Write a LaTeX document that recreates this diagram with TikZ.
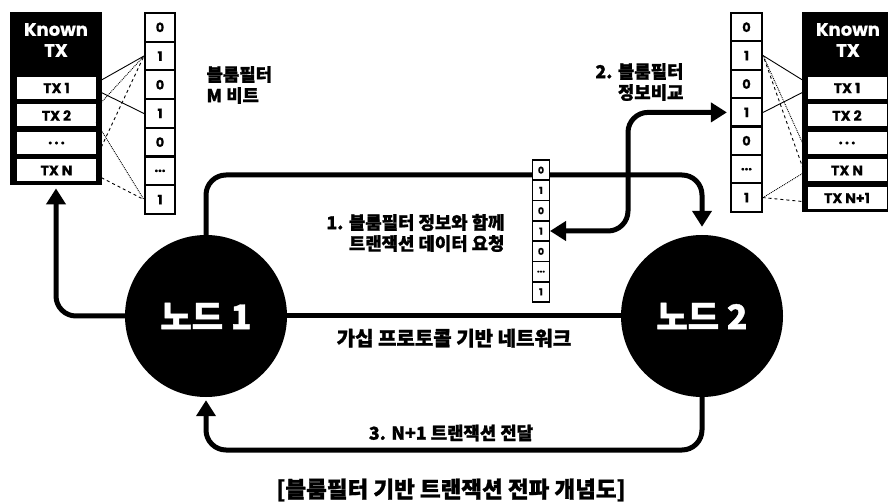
\documentclass[tikz,border=0pt]{standalone}
\usepackage{fontspec}
\setmainfont{Noto Sans CJK KR}[BoldFeatures={FakeBold=1.2}]
\newfontfamily\latfont{Poppins}[BoldFeatures={FakeBold=0.6}]
\usetikzlibrary{arrows.meta,positioning}

\tikzstyle{peer}=[circle,fill=black,minimum size=162pt,inner sep=0pt,text=white,font=\bfseries\fontsize{34}{34}\selectfont]
\tikzstyle{bit}=[draw,line width=2.2pt,fill=white,minimum width=30pt,minimum height=28.7pt,inner sep=0pt,font=\latfont\bfseries\fontsize{13}{13}\selectfont]
\tikzstyle{minibit}=[draw,line width=1.6pt,fill=white,minimum width=17pt,minimum height=20.3pt,inner sep=0pt,font=\latfont\bfseries\fontsize{9.5}{9.5}\selectfont]
\tikzstyle{knownbox}=[fill=black,minimum width=92pt,inner sep=0pt,anchor=north]
\tikzstyle{knowntitle}=[text=white,align=center,font=\latfont\bfseries\fontsize{18}{21}\selectfont]
\tikzstyle{txcell}=[fill=white,minimum width=79pt,minimum height=22pt,inner sep=0pt,font=\latfont\bfseries\fontsize{14}{14}\selectfont]
\tikzstyle{link}=[line width=0.9pt]
\tikzstyle{flow}=[line width=5pt,rounded corners=20pt,-{Triangle[length=16pt,width=19pt]}]
\tikzstyle{tag}=[font=\bfseries\fontsize{17.8}{21}\selectfont]
\tikzstyle{caption}=[font=\bfseries\fontsize{22.5}{22.5}\selectfont]
\newcommand{\bitdots}{...}

\begin{document}
\begin{tikzpicture}[x=1pt,y=-1pt]
    \useasboundingbox (0,0) rectangle (888,502);
    % Known TX tables
    \node[knownbox,minimum height=173pt] (known1) at (56,12) {};
    \node[knowntitle] (title1) at (56,40) {Known\\TX};
    \foreach \t [count=\i] in {TX 1,TX 2,{.\,.\,.},TX N}
        \node[txcell] (ltx\i) at (56.5,60.5+27.5*\i) {\t};
    \node[knownbox,minimum height=200pt] (known2) at (848,12) {};
    \node[knowntitle] (title2) at (848,40) {Known\\TX};
    \foreach \t [count=\i] in {TX 1,TX 2,{.\,.\,.},TX N,TX N+1}
        \node[txcell] (rtx\i) at (847,60.5+27.5*\i) {\t};
    % Bloom filter bits
    \foreach \v [count=\i from 0] in {0,1,0,1,0,\bitdots,1} {
        \node[bit] (lb\i) at (160,27.35+28.7*\i) {\v};
        \node[bit,minimum width=31pt] (rb\i) at (746.5,27.2+28.4*\i) {\v};
    }
    % Hash links from transactions to bits
    \foreach \a/\ys/\b/\s in {ltx1/5/lb1/solid, ltx1/-2/lb3/solid, ltx2/7.5/lb1/densely dotted,
        ltx2/-6.5/lb6/densely dotted, ltx4/12.5/lb1/dashed, ltx4/-4.5/lb6/dashed}
        \draw[link,\s] ([yshift=\ys pt]\a.east) -- (\b.west);
    \foreach \a/\ys/\b/\s in {rtx1/5/rb1/solid, rtx1/-2/rb3/solid, rtx4/17/rb1/densely dotted,
        rtx4/0/rb6/densely dotted, rtx5/17.5/rb1/dashed, rtx5/-4/rb6/dashed}
        \draw[link,\s] ([yshift=\ys pt]\a.west) -- (\b.east);
    \node[tag,anchor=west,align=left] (mbits) at (203,85) {블룸필터\\M 비트};
    \node[tag,anchor=east,align=right] (lbl2) at (687,82) {2. 블룸필터\\정보비교};
    % The two peers
    \node[peer] (node1) at (206,316) {노드 1};
    \node[peer] (node2) at (702,316) {노드 2};
    \draw[line width=5pt] (node1) -- node[tag,font=\bfseries\fontsize{20}{20}\selectfont,below=7pt] (gossip) {가십 프로토콜 기반 네트워크} (node2);
    % Request, compare and delivery paths
    \coordinate (top) at (450,175);
    \coordinate (bend) at (628,170);
    \coordinate (bot) at (450,450);
    \draw[flow,shorten >=8pt] (node1.north) |- (top) -| (node2.north);
    \draw[flow,{Triangle[length=16pt,width=19pt]}-{Triangle[length=16pt,width=19pt]},shorten <=3pt,shorten >=9pt]
        (rb3.west) -| (bend) |- (541,231);
    \draw[flow,shorten >=3pt] (node1.west) -| (known1.south);
    \draw[flow,shorten >=3pt] (node2.south) |- (bot) -| (node1.south);
    \foreach \v [count=\i from 0] in {0,1,0,1,0,\bitdots,1}
        \node[minibit] (mb\i) at (541,170.15+20.3*\i) {\v};
    \node[tag,anchor=east,align=right] (lbl1) at (508,233) {1. 블룸필터 정보와 함께\\트랜잭션 데이터 요청};
    \node[tag] (lbl3) at (451,433) {3. N+1 트랜잭션 전달};
    \node[caption] (cap) at (451,490) {[블룸필터 기반 트랜잭션 전파 개념도]};
\end{tikzpicture}
\end{document}
